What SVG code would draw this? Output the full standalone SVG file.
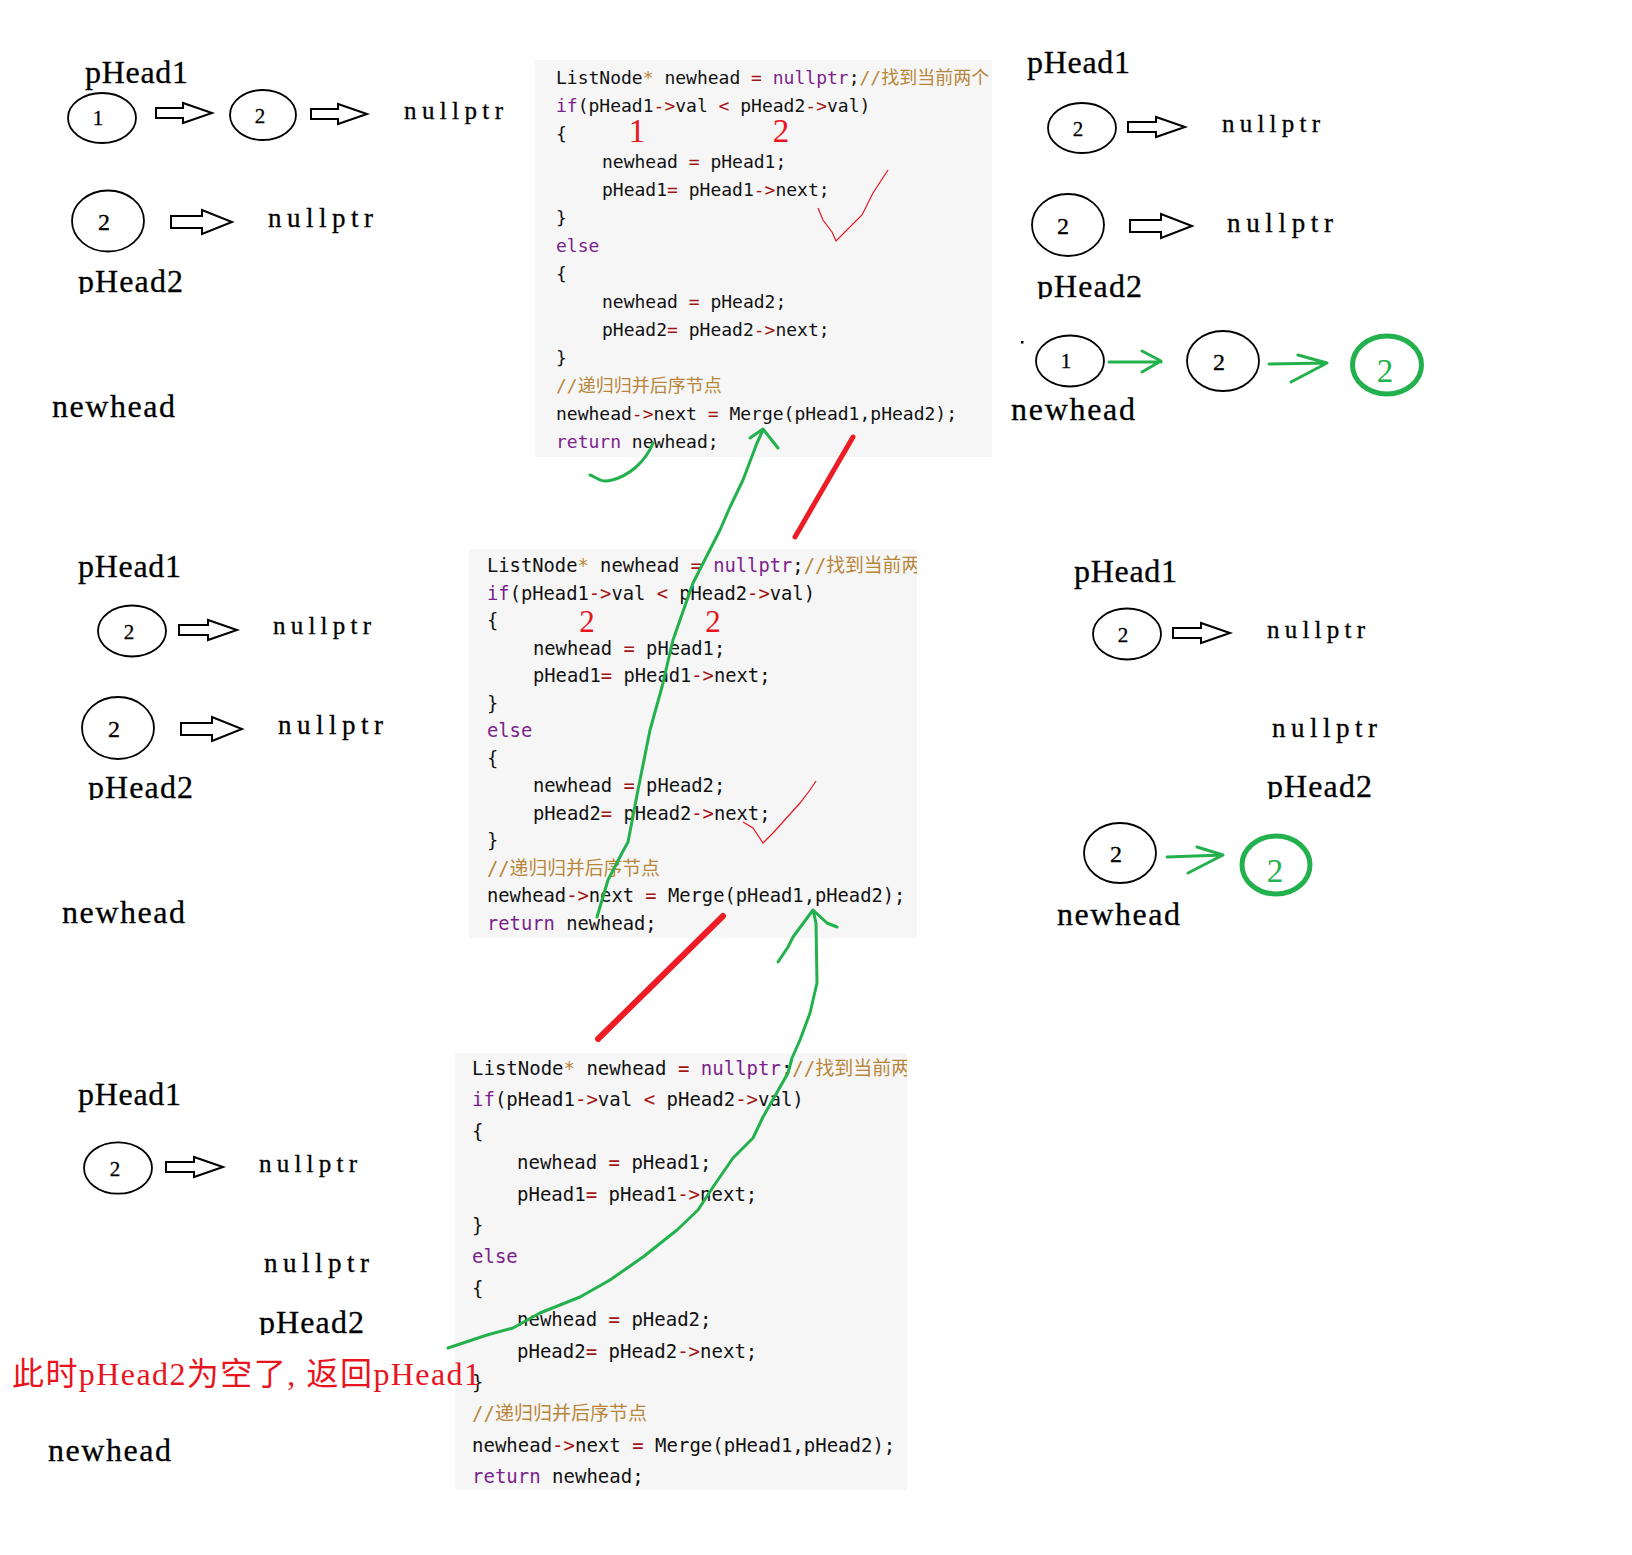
<svg xmlns="http://www.w3.org/2000/svg" width="1632" height="1555" viewBox="0 0 1632 1555">
<style>
.lbl{font-family:"Liberation Serif","Noto Sans CJK SC",serif;fill:#000;stroke:#000;stroke-width:0.3;}
.big{font-size:32px;}
.np{font-size:25px;}
.np2{font-size:27px;}
.dg{font-family:"Liberation Serif",serif;font-size:21px;text-anchor:middle;fill:#000;stroke:#000;stroke-width:0.3;}
.dg2{font-family:"Liberation Serif",serif;font-size:24px;text-anchor:middle;fill:#000;stroke:#000;stroke-width:0.3;}
.gdg{font-family:"Liberation Serif",serif;font-size:33px;text-anchor:middle;fill:#22b14c;}
.node{fill:none;stroke:#000;stroke-width:1.8;}
.gnode{fill:none;stroke:#22b14c;stroke-width:5;}
.barrow{fill:#fff;stroke:#000;stroke-width:2;stroke-linejoin:miter;}
.code{font-family:"DejaVu Sans Mono","Noto Sans CJK SC",monospace;fill:#111;}
.kw{fill:#7b1f8c;}
.op{fill:#a31515;}
.cm{fill:#b8863b;}
.bg{fill:#f6f6f6;}
.rd{font-family:"Liberation Serif","Noto Sans CJK SC",serif;fill:#e8141e;}
.green{fill:none;stroke:#22b14c;stroke-width:3;stroke-linecap:round;stroke-linejoin:round;}
.red{fill:none;stroke:#ee1c24;stroke-linecap:round;}
.chk{fill:none;stroke:#e8141e;stroke-width:1.2;}
</style>
<defs>
<clipPath id="cb1"><rect x="535" y="60" width="457" height="397"/></clipPath>
<clipPath id="cb2"><rect x="469" y="549" width="448" height="389"/></clipPath>
<clipPath id="cb3"><rect x="455" y="1053" width="452" height="437"/></clipPath>
<clipPath id="p2a"><rect x="70" y="250" width="130" height="44"/></clipPath>
<clipPath id="p2b"><rect x="1030" y="255" width="130" height="44"/></clipPath>
<clipPath id="p2c"><rect x="80" y="756" width="130" height="44"/></clipPath>
<clipPath id="p2d"><rect x="1260" y="755" width="130" height="44"/></clipPath>
<clipPath id="p2e"><rect x="250" y="1291" width="130" height="44"/></clipPath>
</defs>
<rect x="0" y="0" width="1632" height="1555" fill="#fff"/>

<!-- code blocks -->
<g id="code1">
<rect class="bg" x="535" y="60" width="457" height="397"/>
<g clip-path="url(#cb1)" class="code" font-size="18">
<text x="556" y="84">ListNode<tspan class="cm">*</tspan> newhead <tspan class="op">=</tspan> <tspan class="kw">nullptr</tspan>;<tspan class="cm">//找到当前两个</tspan></text>
<text x="556" y="112"><tspan class="kw">if</tspan>(pHead1<tspan class="op">-&gt;</tspan>val <tspan class="op">&lt;</tspan> pHead2<tspan class="op">-&gt;</tspan>val)</text>
<text x="556" y="140">{</text>
<text x="602" y="168">newhead <tspan class="op">=</tspan> pHead1;</text>
<text x="602" y="196">pHead1<tspan class="op">=</tspan> pHead1<tspan class="op">-&gt;</tspan>next;</text>
<text x="556" y="224">}</text>
<text x="556" y="252" class="kw">else</text>
<text x="556" y="280">{</text>
<text x="602" y="308">newhead <tspan class="op">=</tspan> pHead2;</text>
<text x="602" y="336">pHead2<tspan class="op">=</tspan> pHead2<tspan class="op">-&gt;</tspan>next;</text>
<text x="556" y="364">}</text>
<text x="556" y="392" class="cm">//递归归并后序节点</text>
<text x="556" y="420">newhead<tspan class="op">-&gt;</tspan>next <tspan class="op">=</tspan> Merge(pHead1,pHead2);</text>
<text x="556" y="448"><tspan class="kw">return</tspan> newhead;</text>
</g>
<text class="rd" x="637" y="142" font-size="33" text-anchor="middle">1</text>
<text class="rd" x="781" y="142" font-size="33" text-anchor="middle">2</text>
</g>

<g id="code2">
<rect class="bg" x="469" y="549" width="448" height="389"/>
<g clip-path="url(#cb2)" class="code" font-size="18.8">
<text x="487" y="572">ListNode<tspan class="cm">*</tspan> newhead <tspan class="op">=</tspan> <tspan class="kw">nullptr</tspan>;<tspan class="cm">//找到当前两个</tspan></text>
<text x="487" y="599.5"><tspan class="kw">if</tspan>(pHead1<tspan class="op">-&gt;</tspan>val <tspan class="op">&lt;</tspan> pHead2<tspan class="op">-&gt;</tspan>val)</text>
<text x="487" y="627">{</text>
<text x="533" y="654.5">newhead <tspan class="op">=</tspan> pHead1;</text>
<text x="533" y="682">pHead1<tspan class="op">=</tspan> pHead1<tspan class="op">-&gt;</tspan>next;</text>
<text x="487" y="709.5">}</text>
<text x="487" y="737" class="kw">else</text>
<text x="487" y="764.5">{</text>
<text x="533" y="792">newhead <tspan class="op">=</tspan> pHead2;</text>
<text x="533" y="819.5">pHead2<tspan class="op">=</tspan> pHead2<tspan class="op">-&gt;</tspan>next;</text>
<text x="487" y="847">}</text>
<text x="487" y="874.5" class="cm">//递归归并后序节点</text>
<text x="487" y="902">newhead<tspan class="op">-&gt;</tspan>next <tspan class="op">=</tspan> Merge(pHead1,pHead2);</text>
<text x="487" y="929.5"><tspan class="kw">return</tspan> newhead;</text>
</g>
<text class="rd" x="587" y="632" font-size="31" text-anchor="middle">2</text>
<text class="rd" x="713" y="632" font-size="31" text-anchor="middle">2</text>
</g>

<g id="code3">
<rect class="bg" x="455" y="1053" width="452" height="437"/>
<g clip-path="url(#cb3)" class="code" font-size="19">
<text x="472" y="1075">ListNode<tspan class="cm">*</tspan> newhead <tspan class="op">=</tspan> <tspan class="kw">nullptr</tspan>;<tspan class="cm">//找到当前两个</tspan></text>
<text x="472" y="1106.4"><tspan class="kw">if</tspan>(pHead1<tspan class="op">-&gt;</tspan>val <tspan class="op">&lt;</tspan> pHead2<tspan class="op">-&gt;</tspan>val)</text>
<text x="472" y="1137.8">{</text>
<text x="517" y="1169.2">newhead <tspan class="op">=</tspan> pHead1;</text>
<text x="517" y="1200.6">pHead1<tspan class="op">=</tspan> pHead1<tspan class="op">-&gt;</tspan>next;</text>
<text x="472" y="1232">}</text>
<text x="472" y="1263.4" class="kw">else</text>
<text x="472" y="1294.8">{</text>
<text x="517" y="1326.2">newhead <tspan class="op">=</tspan> pHead2;</text>
<text x="517" y="1357.6">pHead2<tspan class="op">=</tspan> pHead2<tspan class="op">-&gt;</tspan>next;</text>
<text x="472" y="1389">}</text>
<text x="472" y="1420.4" class="cm">//递归归并后序节点</text>
<text x="472" y="1451.8">newhead<tspan class="op">-&gt;</tspan>next <tspan class="op">=</tspan> Merge(pHead1,pHead2);</text>
<text x="472" y="1483.2"><tspan class="kw">return</tspan> newhead;</text>
</g>
</g>

<!-- labels -->
<g id="labels-tl">
<text class="lbl big" x="85" y="83" textLength="103">pHead1</text>
<text class="lbl np" x="404" y="119" textLength="99" lengthAdjust="spacing">nullptr</text>
<text class="lbl np2" x="268" y="227" textLength="105" lengthAdjust="spacing">nullptr</text>
<g clip-path="url(#p2a)"><text class="lbl big" x="78" y="292" textLength="105">pHead2</text></g>
<text class="lbl big" x="52" y="417" textLength="123">newhead</text>
</g>
<g id="labels-tr">
<text class="lbl big" x="1027" y="73" textLength="103">pHead1</text>
<text class="lbl np" x="1222" y="132" textLength="98" lengthAdjust="spacing">nullptr</text>
<text class="lbl np2" x="1227" y="232" textLength="106" lengthAdjust="spacing">nullptr</text>
<g clip-path="url(#p2b)"><text class="lbl big" x="1037" y="297" textLength="105">pHead2</text></g>
<rect x="1021" y="341" width="2.5" height="2.5" fill="#000"/>
<text class="lbl big" x="1011" y="420" textLength="124">newhead</text>
</g>
<g id="labels-ml">
<text class="lbl big" x="78" y="577" textLength="103">pHead1</text>
<text class="lbl np" x="273" y="634" textLength="98" lengthAdjust="spacing">nullptr</text>
<text class="lbl np2" x="278" y="734" textLength="105" lengthAdjust="spacing">nullptr</text>
<g clip-path="url(#p2c)"><text class="lbl big" x="88" y="798" textLength="105">pHead2</text></g>
<text class="lbl big" x="62" y="923" textLength="123">newhead</text>
</g>
<g id="labels-mr">
<text class="lbl big" x="1074" y="582" textLength="103">pHead1</text>
<text class="lbl np" x="1267" y="638" textLength="98" lengthAdjust="spacing">nullptr</text>
<text class="lbl np2" x="1272" y="737" textLength="105" lengthAdjust="spacing">nullptr</text>
<g clip-path="url(#p2d)"><text class="lbl big" x="1267" y="797" textLength="105">pHead2</text></g>
<text class="lbl big" x="1057" y="925" textLength="123">newhead</text>
</g>
<g id="labels-bl">
<text class="lbl big" x="78" y="1105" textLength="103">pHead1</text>
<text class="lbl np" x="259" y="1172" textLength="98" lengthAdjust="spacing">nullptr</text>
<text class="lbl np2" x="264" y="1272" textLength="105" lengthAdjust="spacing">nullptr</text>
<g clip-path="url(#p2e)"><text class="lbl big" x="259" y="1333" textLength="105">pHead2</text></g>
<text class="rd" x="12" y="1385" font-size="32" textLength="468" lengthAdjust="spacing">此时pHead2为空了,<tspan dx="10">返回pHead1</tspan></text>
<text class="lbl big" x="48" y="1461" textLength="123">newhead</text>
</g>

<!-- nodes -->
<g id="n-tl-1"><ellipse class="node" cx="102" cy="118" rx="34" ry="25"/><text class="dg" x="98" y="125">1</text></g>
<g id="n-tl-2"><ellipse class="node" cx="263" cy="115" rx="33" ry="25"/><text class="dg" x="260" y="123">2</text></g>
<g id="n-tl-3"><ellipse class="node" cx="108" cy="221" rx="36" ry="30.5"/><text class="dg2" x="104" y="230">2</text></g>
<g id="n-tr-1"><ellipse class="node" cx="1082" cy="128" rx="34" ry="25"/><text class="dg" x="1078" y="136">2</text></g>
<g id="n-tr-2"><ellipse class="node" cx="1068" cy="225" rx="36" ry="31"/><text class="dg2" x="1063" y="234">2</text></g>
<g id="n-tr-3"><ellipse class="node" cx="1070" cy="361" rx="34" ry="25.5"/><text class="dg" x="1066" y="368">1</text></g>
<g id="n-tr-4"><ellipse class="node" cx="1223" cy="361" rx="36" ry="30"/><text class="dg2" x="1219" y="370">2</text></g>
<g id="n-tr-5"><ellipse class="gnode" cx="1387" cy="365" rx="34.5" ry="29"/><text class="gdg" x="1385" y="382">2</text></g>
<g id="n-ml-1"><ellipse class="node" cx="132" cy="631" rx="34" ry="25.5"/><text class="dg" x="129" y="639">2</text></g>
<g id="n-ml-2"><ellipse class="node" cx="118" cy="728" rx="36" ry="31"/><text class="dg2" x="114" y="737">2</text></g>
<g id="n-mr-1"><ellipse class="node" cx="1127" cy="634" rx="34" ry="25.5"/><text class="dg" x="1123" y="642">2</text></g>
<g id="n-mr-2"><ellipse class="node" cx="1120" cy="853" rx="36" ry="30"/><text class="dg2" x="1116" y="862">2</text></g>
<g id="n-mr-3"><ellipse class="gnode" cx="1276" cy="865" rx="34" ry="29"/><text class="gdg" x="1275" y="882">2</text></g>
<g id="n-bl-1"><ellipse class="node" cx="118" cy="1168" rx="34" ry="25.7"/><text class="dg" x="115" y="1176">2</text></g>

<!-- connectors -->
<g id="connectors">
<path class="barrow" d="M156,108 H183 V103 L212,113 L183,123 V118 H156 Z"/>
<path class="barrow" d="M311,109 H338 V104 L367,114 L338,124 V119 H311 Z"/>
<path class="barrow" d="M171,216 H202 V210 L232,222 L202,234 V228 H171 Z"/>
<path class="barrow" d="M1128,122 H1156 V117 L1185,127 L1156,137 V132 H1128 Z"/>
<path class="barrow" d="M1130,220 H1161 V214 L1192,226 L1161,238 V232 H1130 Z"/>
<path class="barrow" d="M179,625 H208 V620 L237,630 L208,640 V635 H179 Z"/>
<path class="barrow" d="M181,723 H212 V717 L242,729 L212,741 V735 H181 Z"/>
<path class="barrow" d="M1173,628 H1201 V623 L1230,633 L1201,643 V638 H1173 Z"/>
<path class="barrow" d="M166,1162 H194 V1157 L223,1167 L194,1177 V1172 H166 Z"/>

<path class="green" d="M1109,362 H1161 M1142,351 L1161,361 L1142,372"/>
<path class="green" d="M1269,364 L1327,363 M1298,355 L1327,363 L1291,382"/>
<path class="green" d="M1167,857 L1223,855 M1197,847 L1223,855 L1188,873"/>

<path class="green" d="M590,475 C598,478 600,483 612,480 C628,476 645,463 653,443"/>
<path class="green" d="M597,917 L608,880 L622,853 L628,842 L638,790 L650,730 L662,687 L673,640 L693,583 L720,530 L730,507 L743,480 L757,443 L763,430 M750,438 L763,429 L778,448"/>
<path class="green" d="M448,1348 L487,1335 L513,1328 L540,1313 L580,1297 L610,1280 L643,1257 L677,1230 L698,1210 L713,1187 L733,1158 L753,1138 L763,1117 L788,1073 L792,1058 L800,1040 L810,1013 L817,983 L816,923 L813,910 M778,962 L788,947 L793,937 L813,910 L827,923 L837,927"/>

<path class="red" stroke-width="5" d="M795,537 L853,437"/>
<path class="red" stroke-width="6" d="M598,1039 L723,916"/>
<path class="chk" d="M818,208 L823,220 L832,232 L836,241 L862,215 L873,193 L888,170"/>
<path class="chk" d="M743,822 L753,828 L763,843 L773,833 L800,803 L810,790 L816,781"/>
</g>
</svg>
